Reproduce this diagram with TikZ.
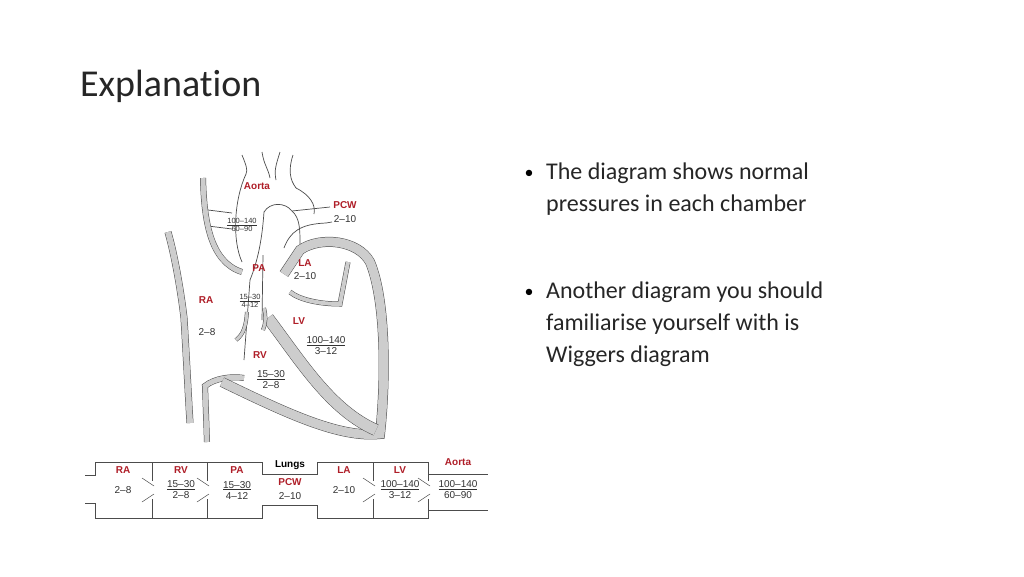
\documentclass[tikz,border=0pt]{standalone}
\usepackage{fontspec}
\setmainfont{Carlito}[Ligatures={TeX,NoCommon}]
\newfontfamily\arialfont{Liberation Sans}[Ligatures=TeX]
\usetikzlibrary{positioning}
\definecolor{lblred}{RGB}{175,30,40}
\definecolor{wallgray}{RGB}{205,205,205}
\definecolor{textgray}{RGB}{50,50,50}
\tikzset{
  chamber/.style={font=\arialfont\fontsize{10}{11}\selectfont\bfseries, text=lblred, inner sep=1pt},
  press/.style={font=\arialfont\fontsize{10}{11}\selectfont, text=textgray, inner sep=1pt},
  band/.style={draw=black!70, line width=#1+1pt, postaction={draw=wallgray, line width=#1}},
  pipe/.style={draw=black!70, line width=0.7pt},
  bullet/.style={font=\fontsize{24}{32}\selectfont, text=black!85, align=left, anchor=north west, inner sep=0pt}
}
\begin{document}
\begin{tikzpicture}[x=1pt,y=-1pt]
  \useasboundingbox (0,0) rectangle (1024,576);
  \fill[white] (0,0) rectangle (1024,576);

  % title and bullets
  \node[anchor=west, font=\fontsize{38}{44}\selectfont, text=black!85, inner sep=0pt] (title) at (80,86) {Explanation};
  \node[bullet] (b1) at (546,163) {The diagram shows normal\\pressures in each chamber};
  \node[font=\fontsize{18}{20}\selectfont, inner sep=0pt] (d1) at (529,174) {•};
  \node[bullet] (b2) at (546,282) {Another diagram you should\\familiarise yourself with is\\Wiggers diagram};
  \node[font=\fontsize{18}{20}\selectfont, inner sep=0pt] (d2) at (529,293) {•};

  % heart: vessel outlines
  \draw[pipe] (242,155) .. controls (246,165) and (248,170) .. (246,174);
  \draw[pipe] (262,152) .. controls (264,165) and (268,168) .. (270,178);
  \draw[pipe] (280,152) .. controls (276,165) and (274,170) .. (276,180);
  \draw[pipe] (293,155) .. controls (288,170) and (290,180) .. (296,188);
  \draw[pipe] (246,174) .. controls (234,200) and (232,240) .. (242,262);
  \draw[pipe] (296,188) .. controls (310,195) and (316,205) .. (314,214);
  \draw[pipe] (208,210) -- (232,213);
  \draw[pipe] (208,226) -- (232,229);
  \draw[pipe] (264,212) .. controls (270,202) and (285,202) .. (292,211) -- (330,207);
  \draw[pipe] (326,223) -- (332,222);
  \draw[pipe] (326,223) .. controls (300,224) and (290,232) .. (284,248);
  \draw[pipe] (264,212) .. controls (262,240) and (258,260) .. (250,280) -- (244,360);
  \draw[pipe] (263,255) -- (262,320);
  \draw[pipe] (292,211) .. controls (300,218) and (300,230) .. (300,244);

  % heart: walls
  \draw[band=6pt] (168,232) .. controls (176,260) and (182,300) .. (184,318)
    .. controls (186,350) and (188,390) .. (190,423);
  \draw[band=5pt] (203,178) .. controls (204,220) and (210,262) .. (242,272);
  \draw[band=5pt] (207,442) -- (205,386) .. controls (215,378) and (232,376) .. (244,378);
  \draw[band=9pt] (222,382) .. controls (290,415) and (340,438) .. (380,434)
    .. controls (386,380) and (386,300) .. (370,262)
    .. controls (358,240) and (320,236) .. (300,250) -- (284,274);
  \draw[band=11pt] (268,318) .. controls (300,360) and (330,410) .. (376,430);
  \draw[band=4pt] (290,292) .. controls (300,300) and (320,304) .. (340,304) -- (348,262);
  \draw[band=3pt] (236,340) .. controls (244,334) and (246,325) .. (247,312);
  \draw[band=3pt] (263,330) .. controls (266,322) and (266,316) .. (264,308);

  % heart: labels
  \node[chamber] (haorta) at (257,186) {Aorta};
  \node[press,align=center,font=\arialfont\fontsize{7.5}{8}\selectfont] (haortap) at (242,225) {\underline{100--140}\\60--90};
  \node[chamber] (hpcw) at (345,205) {PCW};
  \node[press] (hpcwp) at (345,219) {2--10};
  \node[chamber] (hpa) at (259,268) {PA};
  \node[press,align=center,font=\arialfont\fontsize{7.5}{8}\selectfont] (hpap) at (250,301) {\underline{15--30}\\4--12};
  \node[chamber] (hla) at (305,263) {LA};
  \node[press] (hlap) at (305,276) {2--10};
  \node[chamber] (hra) at (206,300) {RA};
  \node[press] (hrap) at (207,332) {2--8};
  \node[chamber] (hlv) at (299,321) {LV};
  \node[press,align=center] (hlvp) at (326,346) {\underline{100--140}\\3--12};
  \node[chamber] (hrv) at (260,355) {RV};
  \node[press,align=center] (hrvp) at (271,380) {\underline{15--30}\\2--8};

  % bottom strip: boxes
  \draw[pipe] (95,462) -- (262,462) -- (262,474) -- (317,474) -- (317,462) -- (428,462) -- (428,474) -- (488,474);
  \draw[pipe] (95,518) -- (262,518) -- (262,505) -- (317,505) -- (317,518) -- (428,518) -- (428,510) -- (488,510);
  \draw[pipe] (85,475) -- (95,475) -- (95,462);
  \draw[pipe] (85,503) -- (95,503) -- (95,518);
  \foreach \vx in {152, 207, 373, 428} {
    \draw[pipe] (\vx,462) -- (\vx,481);
    \draw[pipe] (\vx,499) -- (\vx,518);
    \draw[pipe,line width=0.5pt] (\vx-10,478) -- (\vx+2,486);
    \draw[pipe,line width=0.5pt] (\vx-10,502) -- (\vx+2,494);
  }

  % bottom strip: labels
  \node[chamber] (bra) at (123,470) {RA};
  \node[press] (brap) at (123,490) {2--8};
  \node[chamber] (brv) at (181,470) {RV};
  \node[press,align=center] (brvp) at (181,490) {\underline{15--30}\\2--8};
  \node[chamber] (bpa) at (237,470) {PA};
  \node[press,align=center] (bpap) at (237,490) {\underline{15--30}\\4--12};
  \node[font=\arialfont\fontsize{10}{11}\selectfont\bfseries, inner sep=1pt] (blungs) at (290,465) {Lungs};
  \node[chamber] (bpcw) at (290,482) {PCW};
  \node[press] (bpcwp) at (290,496) {2--10};
  \node[chamber] (bla) at (344,470) {LA};
  \node[press] (blap) at (344,490) {2--10};
  \node[chamber] (blv) at (400,470) {LV};
  \node[press,align=center] (blvp) at (400,490) {\underline{100--140}\\3--12};
  \node[chamber] (baorta) at (458,462) {Aorta};
  \node[press,align=center] (baortap) at (458,490) {\underline{100--140}\\60--90};
\end{tikzpicture}
\end{document}
